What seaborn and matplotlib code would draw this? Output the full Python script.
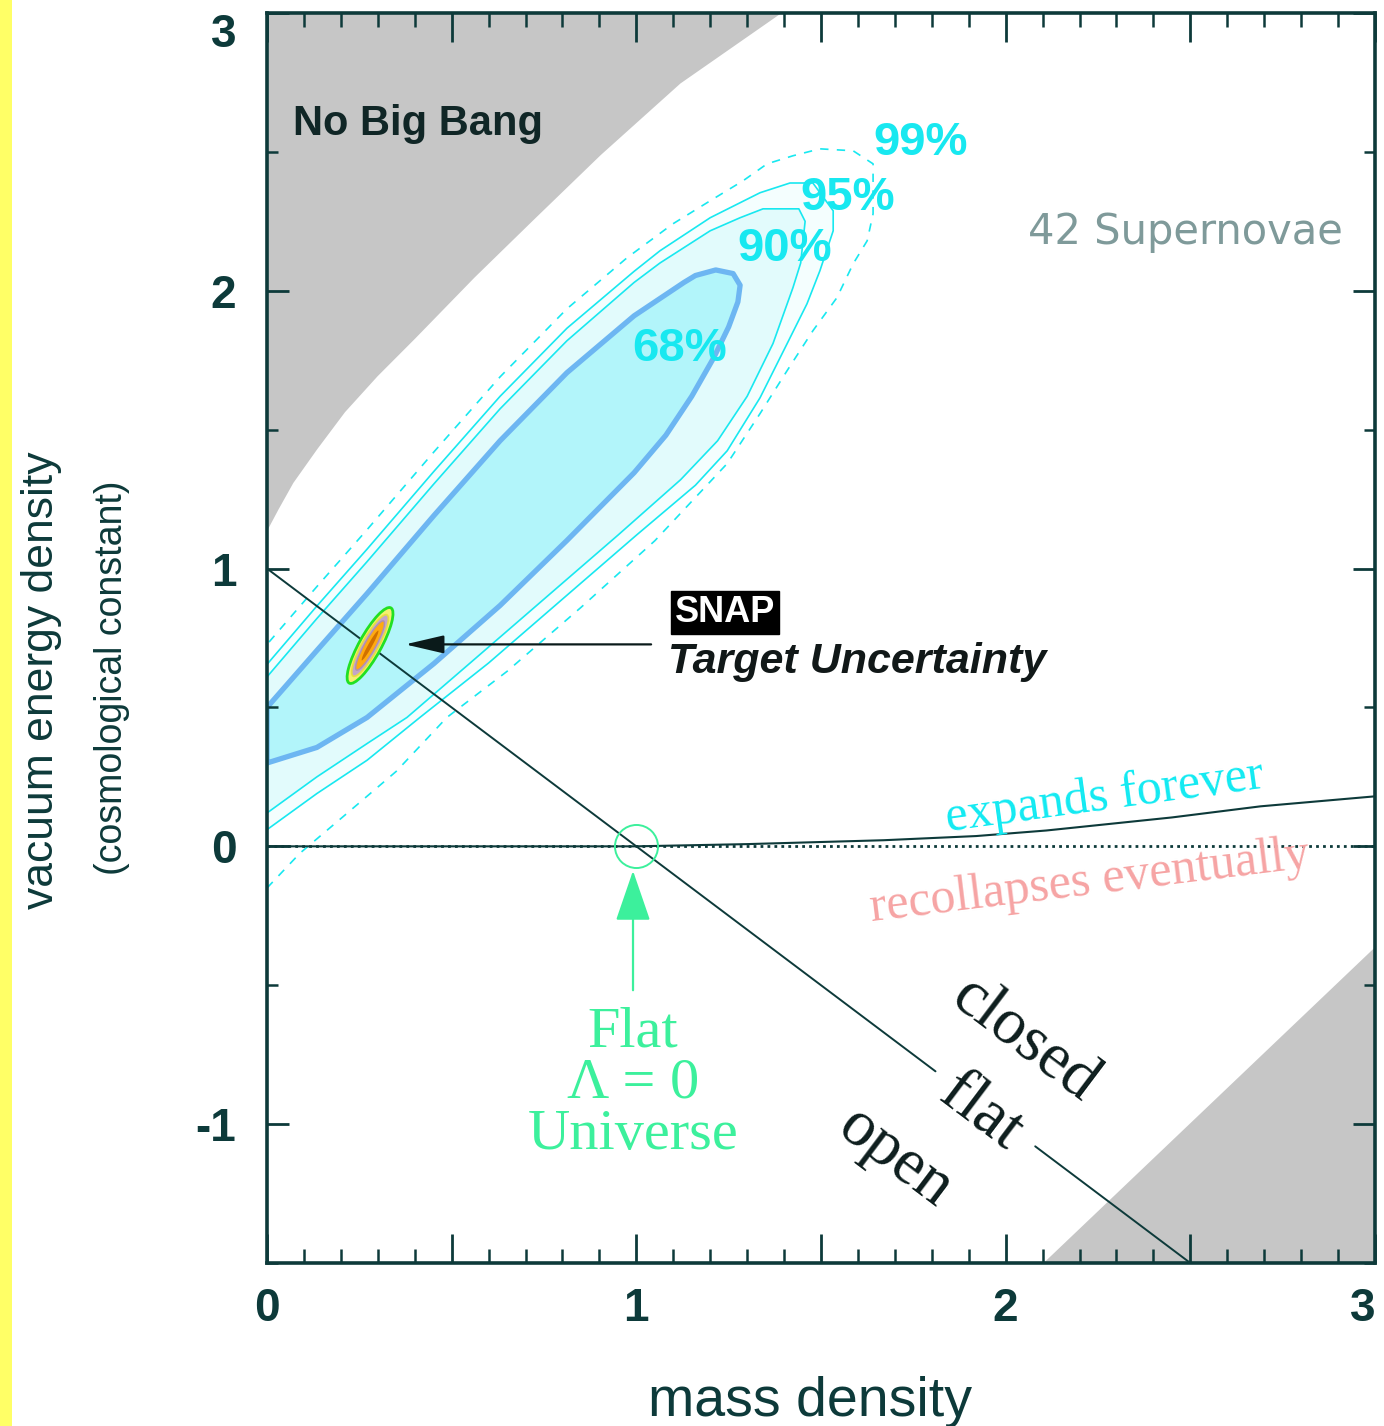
import matplotlib
matplotlib.use("Agg")
import matplotlib.pyplot as plt
import matplotlib.transforms as mtransforms
from matplotlib.patches import Ellipse, Rectangle
from matplotlib.ticker import MultipleLocator
import seaborn as sns

# ---------------- data ----------------
X_LIM = [0.0, 3.0]
Y_LIM = [-1.5, 3.0]

x_tick_values = [0, 0.5, 1, 1.5, 2, 2.5, 3]
x_tick_labels = ["0", "", "1", "", "2", "", "3"]
y_tick_values = [-1, 0, 1, 2, 3]
y_tick_labels = ["-1", "0", "1", "2", "3"]

# "No Big Bang" boundary (upper-left grey region)
nobigbang_x = [0.000, 0.030, 0.070, 0.135, 0.210, 0.298, 0.400, 0.561, 0.723, 0.902,
               1.118, 1.390]
nobigbang_y = [1.140, 1.215, 1.310, 1.432, 1.565, 1.694, 1.830, 2.050, 2.260, 2.490,
               2.748, 3.000]

# lower-right grey region boundary
lowgray_x = [2.10, 3.00]
lowgray_y = [-1.50, -0.36]

# flat-universe line (broken around the "flat" label)
flat_a_x = [0.00, 1.81]
flat_a_y = [1.00, -0.81]
flat_b_x = [2.08, 2.50]
flat_b_y = [-1.08, -1.50]

# Lambda = 0 line and expand/recollapse boundary
lambda0_x = [0.0, 3.0]
lambda0_y = [0.0, 0.0]
expand_x = [0.00, 1.00, 1.30, 1.67, 1.92, 2.11, 2.45, 2.69, 3.00]
expand_y = [0.000, 0.000, 0.008, 0.022, 0.037, 0.057, 0.104, 0.144, 0.180]

# confidence contours (42 supernovae)
c68_x = [0.000, 0.135, 0.271, 0.452, 0.631, 0.812, 0.994, 1.080, 1.150, 1.210, 1.250,
         1.275, 1.281, 1.262, 1.215, 1.160, 1.129, 0.994, 0.812, 0.631, 0.452, 0.271,
         0.135, 0.000]
c68_y = [0.300, 0.356, 0.464, 0.658, 0.867, 1.101, 1.345, 1.480, 1.620, 1.760, 1.870,
         1.960, 2.020, 2.062, 2.075, 2.055, 2.030, 1.910, 1.705, 1.460, 1.191, 0.910,
         0.705, 0.500]
c90_x = [0.000, 0.135, 0.271, 0.379, 0.550, 0.750, 0.950, 1.120, 1.220, 1.300, 1.370,
         1.424, 1.445, 1.457, 1.440, 1.343, 1.281, 1.200, 1.064, 0.994, 0.812, 0.631,
         0.452, 0.271, 0.135, 0.000]
c90_y = [0.120, 0.250, 0.370, 0.464, 0.660, 0.890, 1.120, 1.320, 1.460, 1.620, 1.810,
         2.011, 2.100, 2.250, 2.295, 2.295, 2.263, 2.216, 2.100, 2.030, 1.820, 1.575,
         1.305, 1.025, 0.820, 0.610]
c95_x = [0.000, 0.135, 0.271, 0.414, 0.600, 0.800, 1.000, 1.160, 1.246, 1.335, 1.408,
         1.462, 1.497, 1.533, 1.533, 1.478, 1.416, 1.335, 1.200, 1.064, 0.994, 0.812,
         0.631, 0.452, 0.271, 0.135, 0.000]
c95_y = [0.060, 0.190, 0.310, 0.464, 0.660, 0.890, 1.120, 1.300, 1.424, 1.615, 1.809,
         1.953, 2.072, 2.216, 2.288, 2.388, 2.388, 2.353, 2.263, 2.144, 2.070, 1.865,
         1.620, 1.350, 1.070, 0.865, 0.655]
c99_x = [0.000, 0.089, 0.200, 0.350, 0.487, 0.650, 0.850, 1.050, 1.246, 1.335, 1.408,
         1.478, 1.543, 1.587, 1.625, 1.641, 1.641, 1.587, 1.497, 1.424, 1.354, 1.289,
         1.200, 1.099, 0.975, 0.812, 0.631, 0.452, 0.271, 0.135, 0.000]
c99_y = [-0.150, -0.025, 0.100, 0.270, 0.464, 0.630, 0.860, 1.100, 1.378, 1.558, 1.712,
         1.856, 1.975, 2.097, 2.180, 2.277, 2.457, 2.504, 2.511, 2.486, 2.457, 2.396,
         2.324, 2.241, 2.119, 1.935, 1.690, 1.420, 1.140, 0.935, 0.727]

contour_labels = ["68%", "90%", "95%", "99%"]
contour_label_x = [1.118, 1.403, 1.571, 1.769]
contour_label_y = [1.791, 2.151, 2.335, 2.532]

# SNAP target
snap_x, snap_y = 0.279, 0.723
snap_arrow_from = (1.040, 0.727)
snap_arrow_to = (0.374, 0.727)

# flat Lambda=0 universe marker
flat0_x, flat0_y = 1.0, 0.0
flat0_arrow_from = (0.991, -0.518)
flat0_arrow_to = (0.991, -0.088)

# ---------------- style ----------------
INK = "#0d3a3a"
GRAY = "#c6c6c6"
CYAN = "#18e8f0"
BLUE = "#6db6f2"
GREEN = "#3cf09c"

sns.set_theme(style="white")
plt.rcParams["font.family"] = ["Liberation Sans", "DejaVu Sans"]
SERIF = ["Liberation Serif", "DejaVu Serif"]

fig = plt.figure(figsize=(13.84, 14.26), dpi=100)
fig.patch.set_facecolor("white")
fig.add_artist(Rectangle((0, 0), 12 / 1384, 1, transform=fig.transFigure,
                         facecolor="#ffff66", edgecolor="none", zorder=0))
ax = fig.add_axes([267 / 1384, 1 - 1263 / 1426, 1108 / 1384, 1250 / 1426])
ax.set_facecolor("white")
ax.set_axisbelow(False)
ax.set_xlim(X_LIM)
ax.set_ylim(Y_LIM)

# grey forbidden regions
ax.fill_between(nobigbang_x, nobigbang_y, Y_LIM[1], color=GRAY, lw=0, zorder=1)
ax.fill_between(lowgray_x, Y_LIM[0], lowgray_y, color=GRAY, lw=0, zorder=1)


def closed(xs, ys):
    return list(xs) + [xs[0]], list(ys) + [ys[0]]


def line(xs, ys, **kw):
    sns.lineplot(x=xs, y=ys, sort=False, estimator=None, ax=ax, legend=False, **kw)


# contour fills
for xs, ys, col in [(c95_x, c95_y, "#f4fefe"), (c90_x, c90_y, "#e2fbfc"),
                    (c68_x, c68_y, "#b2f5fa")]:
    ax.fill(xs, ys, color=col, lw=0, zorder=2)

# contour lines
line(*closed(c99_x, c99_y), color=CYAN, linewidth=1.2, linestyle=(0, (5, 5)), zorder=3)
line(*closed(c95_x, c95_y), color=CYAN, linewidth=1.2, zorder=3)
line(*closed(c90_x, c90_y), color=CYAN, linewidth=1.2, zorder=3)
line(*closed(c68_x, c68_y), color=BLUE, linewidth=3.8, zorder=4)

for lab, lx, ly in zip(contour_labels, contour_label_x, contour_label_y):
    ax.text(lx, ly, lab, color=CYAN, fontsize=34, fontweight="bold",
            ha="center", va="center", zorder=8)

# reference lines
line(lambda0_x, lambda0_y, color=INK, linewidth=2.0, linestyle=(0, (1, 1.5)), zorder=5)
line(expand_x, expand_y, color=INK, linewidth=1.5, zorder=5)
line(flat_a_x, flat_a_y, color=INK, linewidth=1.4, zorder=6)
line(flat_b_x, flat_b_y, color=INK, linewidth=1.4, zorder=6)

# SNAP target ellipse (nested), sized in inches around the data point
snap_tr = fig.dpi_scale_trans + mtransforms.ScaledTranslation(snap_x, snap_y, ax.transData)
for w, h, fc, ec, lw in [(0.86, 0.22, "#f4f070", "#22e022", 2.0),
                         (0.70, 0.16, "#c4a6c8", "#e6e040", 1.2),
                         (0.56, 0.11, "#ffaa10", "#b090b0", 1.0),
                         (0.34, 0.04, "#d07000", "none", 0.0)]:
    ax.add_patch(Ellipse((0, 0), w, h, angle=61, transform=snap_tr,
                         facecolor=fc, edgecolor=ec, linewidth=lw, zorder=7))

ax.annotate("", xy=snap_arrow_to, xytext=snap_arrow_from,
            arrowprops=dict(arrowstyle="-|>,head_length=1.2,head_width=0.28",
                            mutation_scale=20, color="#0a1a1a", lw=1.6,
                            shrinkA=0, shrinkB=0), zorder=8)
ax.text(1.240, 0.842, "SNAP", color="white", fontsize=26, fontweight="bold",
        ha="center", va="center", zorder=9,
        bbox=dict(boxstyle="square,pad=0.1", facecolor="black", edgecolor="black"))
ax.text(1.086, 0.662, "Target Uncertainty", color="#111818", fontsize=31,
        fontweight="bold", fontstyle="italic", ha="left", va="center", zorder=9)

# flat Lambda = 0 marker
ax.plot([flat0_x], [flat0_y], marker="o", markersize=31, markerfacecolor="none",
        markeredgecolor=GREEN, markeredgewidth=1.4, zorder=7)
ax.annotate("", xy=flat0_arrow_to, xytext=flat0_arrow_from,
            arrowprops=dict(arrowstyle="-|>,head_length=1.6,head_width=0.55",
                            mutation_scale=20, color=GREEN, lw=1.6,
                            shrinkA=0, shrinkB=0), zorder=8)
ax.text(0.991, -0.855, "Flat\n\u039b = 0\nUniverse", color=GREEN, fontsize=42,
        family=SERIF, ha="center", va="center", multialignment="center",
        linespacing=0.98, zorder=9)

# region texts
ax.text(0.070, 2.60, "No Big Bang", color="#102626", fontsize=30, fontweight="bold",
        ha="left", va="center", zorder=9)
ax.text(2.486, 2.212, "42 Supernovae", color="#7f9a9a", fontsize=30,
        family=["DejaVu Sans"], ha="center", va="center", zorder=9)
ax.text(2.269, 0.176, "expands forever", color="#12eaf2", fontsize=36, family=SERIF,
        rotation=7.8, rotation_mode="anchor", ha="center", va="center", zorder=9)
ax.text(2.229, -0.128, "recollapses eventually", color="#f6a4a4", fontsize=36,
        family=SERIF, rotation=7.0, rotation_mode="anchor", ha="center", va="center",
        zorder=9)
for txt, tx, ty in [("closed", 2.053, -0.698), ("flat", 1.931, -0.960),
                    ("open", 1.700, -1.122)]:
    ax.text(tx, ty, txt, color="#0d1d1d", fontsize=47, family=SERIF, rotation=-37,
            rotation_mode="anchor", ha="center", va="center", zorder=9)

# ticks and spines
ax.set_xticks(x_tick_values, labels=x_tick_labels, fontsize=33, fontweight="bold",
              color=INK)
ax.set_yticks(y_tick_values, labels=y_tick_labels, fontsize=33, fontweight="bold",
              color=INK)
ax.xaxis.set_minor_locator(MultipleLocator(0.1))
ax.yaxis.set_minor_locator(MultipleLocator(0.5))
ax.tick_params(axis="both", which="both", direction="in", top=True, right=True,
               bottom=True, left=True, color=INK)
ax.tick_params(axis="x", which="major", length=21, width=2.0, pad=17)
ax.tick_params(axis="x", which="minor", length=10, width=1.8)
ax.tick_params(axis="y", which="major", length=16, width=2.0, pad=22)
ax.tick_params(axis="y", which="minor", length=8, width=1.8)
# keep the edge labels inside the figure
ax.get_yticklabels()[-1].set_verticalalignment("top")
ax.get_xticklabels()[-1].set_horizontalalignment("right")
ax.xaxis.set_zorder(12)
ax.yaxis.set_zorder(12)
for sp in ax.spines.values():
    sp.set_visible(True)
    sp.set_color(INK)
    sp.set_linewidth(2.6)
    sp.set_zorder(13)
ax.grid(False)

# axis titles
fig.text(42 / 1384, 1 - 680 / 1426, "vacuum energy density", rotation=90,
         ha="center", va="center", fontsize=32, color=INK)
fig.text(112 / 1384, 1 - 678 / 1426, "(cosmological constant)", rotation=90,
         ha="center", va="center", fontsize=27, color=INK)
fig.text(810 / 1384, 1 - 1402 / 1426, "mass density", ha="center", va="center",
         fontsize=40, color=INK)

fig.savefig("out.png", dpi=100, facecolor="white")
